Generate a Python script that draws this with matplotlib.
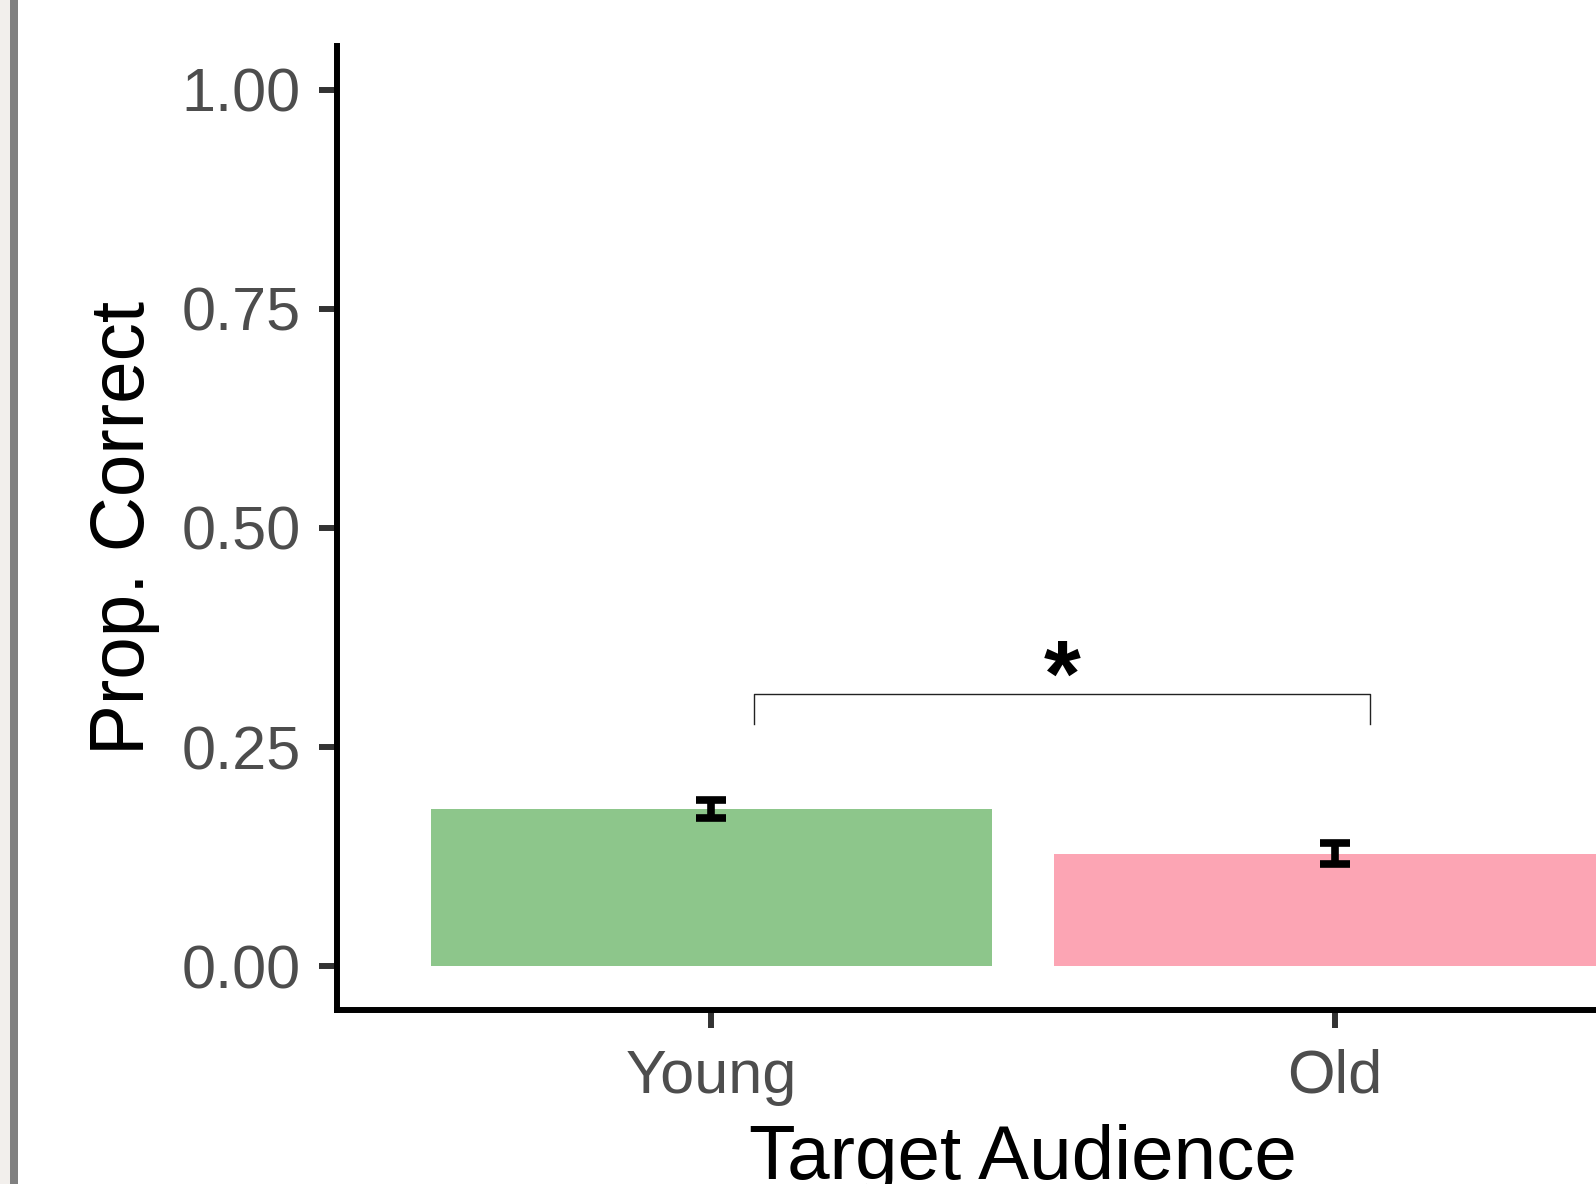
import matplotlib
matplotlib.use("Agg")
import matplotlib.pyplot as plt
from matplotlib.patches import Rectangle

plt.rcParams['font.family'] = ['Liberation Sans', 'DejaVu Sans']

# proportion correct by target audience, with standard errors
audience = ["Young", "Old"]
prop_correct = [0.179, 0.128]
std_err = [0.0105, 0.012]
bar_colors = ["#8DC68B", "#FCA5B4"]

# significance bracket between the two groups
sig_x = [1.069, 2.056]
sig_y = 0.310
sig_tip = 0.276
sig_label = "*"

fig = plt.figure(figsize=(15.96, 11.84), dpi=100)

# window edge at the far left
fig.patches.append(Rectangle((0, 0), 10 / 1596, 1, transform=fig.transFigure,
                             facecolor="#F2EFEC", edgecolor="none"))
fig.patches.append(Rectangle((10 / 1596, 0), 8 / 1596, 1, transform=fig.transFigure,
                             facecolor="#808080", edgecolor="none"))

# the panel runs off the right-hand side
ax = fig.add_axes([0.2112, 0.147, 0.8597, 0.8142])
ax.set_clip_on(False)

xpos = list(range(1, len(audience) + 1))
ax.bar(xpos, prop_correct, width=0.9, color=bar_colors, zorder=1)
ax.errorbar(xpos, prop_correct, yerr=std_err, fmt="none", ecolor="black",
            elinewidth=5.5, capsize=11, capthick=5.5, zorder=3)

ax.plot([sig_x[0], sig_x[0], sig_x[1], sig_x[1]],
        [sig_tip, sig_y, sig_y, sig_tip], color="#222222", lw=1.0, zorder=2)
ax.text(sum(sig_x) / 2, 0.325, sig_label, ha="center", va="center",
        fontsize=68, fontweight="bold", color="black")

ax.set_xlim(0.4, 2.6)
ax.set_ylim(-0.05, 1.05)
ax.set_xticks(xpos)
ax.set_xticklabels(audience)
ax.set_yticks([0, 0.25, 0.5, 0.75, 1.0])
ax.set_yticklabels(["0.00", "0.25", "0.50", "0.75", "1.00"])

for side in ["top", "right"]:
    ax.spines[side].set_visible(False)
for side in ["left", "bottom"]:
    ax.spines[side].set_linewidth(4.3)
    ax.spines[side].set_color("black")
    ax.spines[side].set_capstyle("projecting")

ax.tick_params(axis="both", length=13, width=4.3, color="#333333",
               labelsize=44, labelcolor="#4D4D4D")
ax.tick_params(axis="y", pad=13)
ax.tick_params(axis="x", pad=15)

ax.set_ylabel("Prop. Correct", fontsize=55, color="black")
ax.set_xlabel("Target Audience", fontsize=55, color="black")
ax.yaxis.set_label_coords(-0.129, 0.5)
ax.xaxis.set_label_coords(0.5, -0.118)

fig.savefig("out.png", dpi=100)
